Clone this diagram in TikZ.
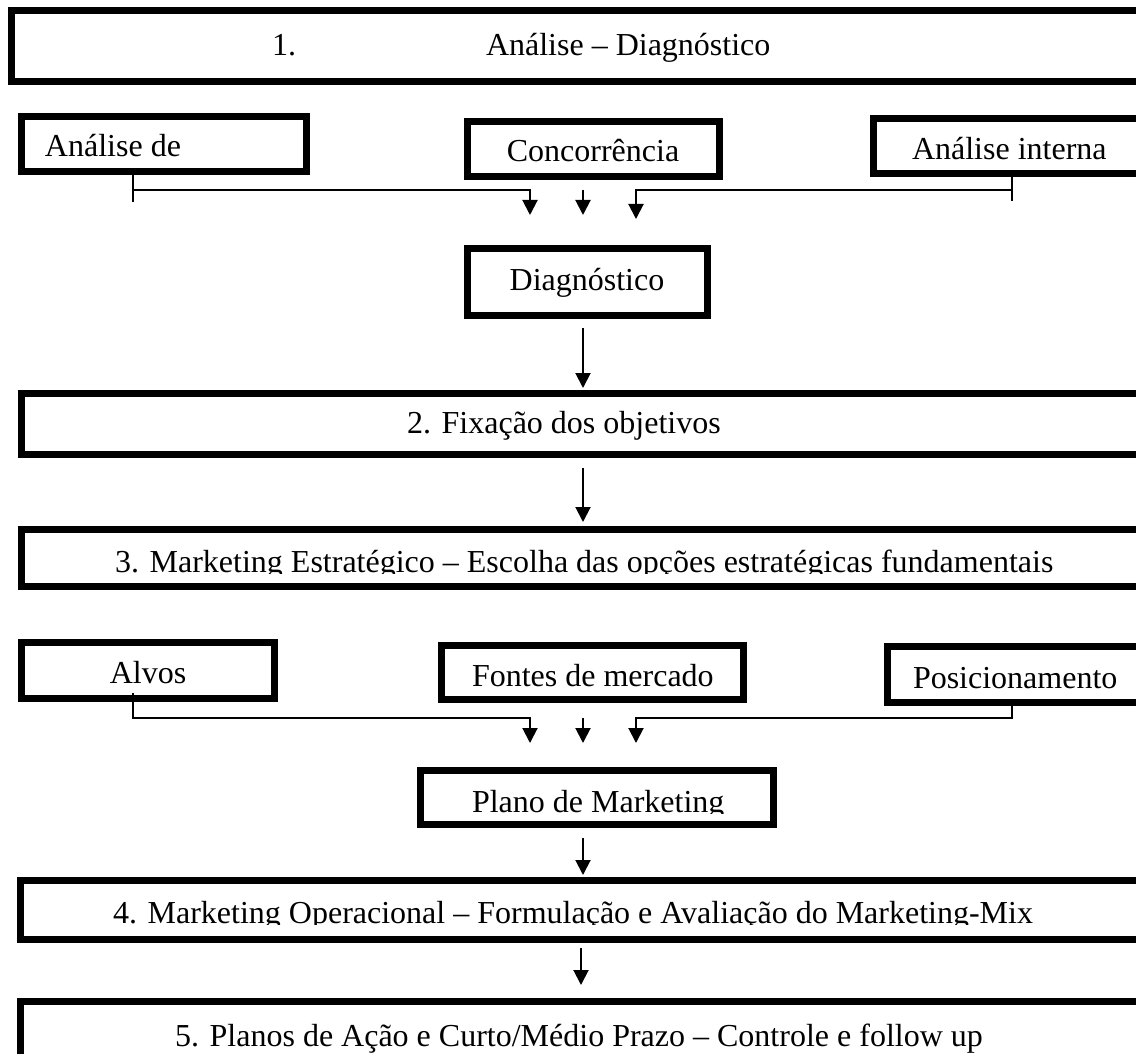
\documentclass[tikz,border=0pt]{standalone}
\usepackage{fontspec}
\setmainfont{Liberation Serif}
\usetikzlibrary{arrows.meta,fit}
\begin{document}
\begin{tikzpicture}[x=0.5pt,y=-0.5pt,
  box/.style={draw,line width=3.4pt,inner sep=0pt,outer sep=0pt,rectangle},
  lbl/.style={inner sep=0pt,outer sep=0pt,font=\fontsize{16pt}{19pt}\selectfont},
  link/.style={line width=1pt},
  flow/.style={line width=1pt,-{Triangle[length=7.5pt,width=7.5pt]}},
]
\useasboundingbox (0,0) rectangle (1136,1054);
\fill[white] (0,0) rectangle (1136,1054);
\clip (0,0) rectangle (1136,1054);

% ---- frames (the wide ones run past the right margin) ----
\node[box,fit={(11.5,10.5) (1146.5,81.5)}]   (b1) {};
\node[box,fit={(21.5,116.5) (306.5,171.5)}]  (A) {};
\node[box,fit={(467.5,121.5) (719.5,176.5)}] (C) {};
\node[box,fit={(873.5,118.5) (1146.5,173.5)}] (I) {};
\node[box,fit={(467.5,248.5) (707.5,315.5)}] (D) {};
\node[box,fit={(21.5,393.5) (1146.5,454.5)}] (b2) {};
\node[box,fit={(21.5,529.5) (1146.5,586.5)}] (b3) {};
\node[box,fit={(21.5,642.5) (274.5,698.5)}]  (Al) {};
\node[box,fit={(441.5,645.5) (743.5,699.5)}] (F) {};
\node[box,fit={(887.5,646.5) (1146.5,702.5)}] (P) {};
\node[box,fit={(420.5,770.5) (773.5,824.5)}] (PM) {};
\node[box,fit={(20.5,880.5) (1146.5,939.5)}] (b4) {};
\node[box,fit={(20.5,1001.5) (1146.5,1066.5)}] (b5) {};

% ---- texts ----
\node[lbl,anchor=base west] (t1n) at (272,56) {1.};
\node[lbl,anchor=base west] (t1)  at (486,56) {Análise – Diagnóstico};
\node[lbl,anchor=base west] (tA)  at (45,157) {Análise de};
\node[lbl,anchor=base]      (tC)  at (593,162) {Concorrência};
\node[lbl,anchor=base west] (tI)  at (912,160) {Análise interna};
\node[lbl,anchor=base]      (tD)  at (587,290) {Diagnóstico};
\node[lbl,anchor=base west] (t2)  at (407,433) {2. Fixação dos objetivos};
\begin{scope}
  \clip (25,533) rectangle (1136,573.5);
  \node[lbl,anchor=base west] (t3) at (115,572) {3. Marketing Estratégico – Escolha das opções estratégicas fundamentais};
\end{scope}
\node[lbl,anchor=base]      (tAl) at (148,683) {Alvos};
\node[lbl,anchor=base west] (tF)  at (472,686) {Fontes de mercado};
\node[lbl,anchor=base west] (tP)  at (913,688) {Posicionamento};
\begin{scope}
  \clip (424,774) rectangle (770,813.5);
  \node[lbl,anchor=base west] (tPM) at (472,812) {Plano de Marketing};
\end{scope}
\begin{scope}
  \clip (24,884) rectangle (1136,924.5);
  \node[lbl,anchor=base west] (t4) at (113,923) {4. Marketing Operacional – Formulação e Avaliação do Marketing-Mix};
\end{scope}
\node[lbl,anchor=base west] (t5)  at (175,1046) {5. Planos de Ação e Curto/Médio Prazo – Controle e follow up};

% ---- connectors, upper group ----
\coordinate (spine) at (583,0);
\coordinate (inL) at (530,215);
\coordinate (inR) at (636,219);
\draw[link] ([xshift=-15.5pt]A.south) -- ++(0,30.5);
\draw[flow] ([xshift=-15.5pt]A.south) ++(0,18.5) -| (inL);
\draw[flow] ([xshift=-5.25pt,yshift=-6.75pt]C.south) -- ++(0,25);
\draw[link] ([xshift=1pt]I.south) -- ++(0,27.5);
\draw[flow] ([xshift=1pt]I.south) ++(0,16.5) -| (inR);

\draw[flow] ([yshift=-6.25pt]D.south -| spine) -- ([yshift=2.75pt]b2.north -| spine);
\draw[flow] ([yshift=-6.75pt]b2.south -| spine) -- ([yshift=3.75pt]b3.north -| spine);

% ---- connectors, lower group ----
\coordinate (jL) at (530,718);
\coordinate (inL2) at (530,743);
\coordinate (jR) at (636,718);
\coordinate (inR2) at (636,743);
\draw[flow] ([xshift=-7.5pt,yshift=3pt]Al.south) |- (jL) -- (inL2);
\draw[flow] ([xshift=-4.75pt,yshift=-9.25pt]F.south) -- ++(0,25);
\draw[flow] ([xshift=-2.5pt]P.south) |- (jR) -- (inR2);

\draw[flow] ([yshift=-6.75pt]PM.south -| spine) -- ([yshift=2.75pt]b4.north -| spine);
\coordinate (in5) at (581,985);
\draw[flow] ([yshift=-4.25pt]b4.south -| in5) -- (in5);
\end{tikzpicture}
\end{document}
